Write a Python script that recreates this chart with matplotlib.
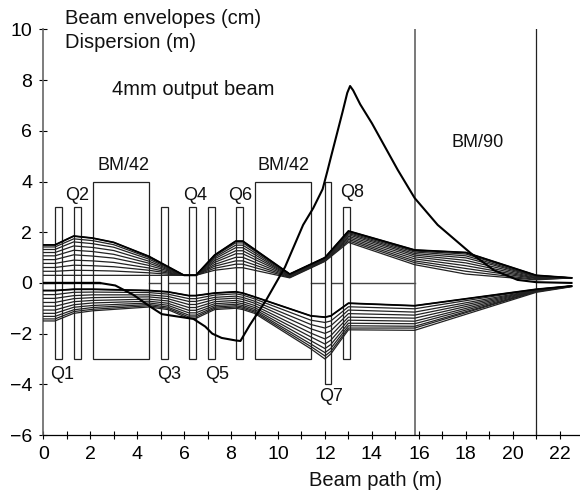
import matplotlib
matplotlib.use("Agg")
import matplotlib.pyplot as plt
from matplotlib.patches import Rectangle
import numpy as np

plt.rcParams["font.family"] = ["Liberation Sans", "DejaVu Sans"]

# magnets: name, start, end, bottom, top
QUAD_X0 = [0.5, 1.3, 5.0, 6.2, 7.0, 8.2, 12.0, 12.75]
QUAD_X1 = [0.8, 1.6, 5.3, 6.5, 7.3, 8.5, 12.25, 13.05]
QUAD_LOW = [-3, -3, -3, -3, -3, -3, -4, -3]
QUAD_TOP = [3, 3, 3, 3, 3, 3, 4, 3]
BEND_X0 = [2.1, 9.0]
BEND_X1 = [4.5, 11.4]
BEND_LOW = [-3, -3]
BEND_TOP = [4, 4]
VLINES = [15.82, 21.0]

# upper envelope, one row per path position, rays from inner to outer
UPPER_X = [0, 0.5, 1.3, 2.1, 3, 4.5, 6.0, 6.5, 7.3, 8.2, 8.5, 10.5, 12, 13, 15.82, 18, 21, 22.5]
UPPER = [
    [.30, .46, .61, .77, .92, 1.07, 1.20, 1.32, 1.42, 1.50],
    [.30, .46, .61, .77, .92, 1.07, 1.20, 1.32, 1.42, 1.50],
    [.30, .50, .70, .90, 1.11, 1.29, 1.46, 1.62, 1.74, 1.85],
    [.30, .49, .68, .87, 1.06, 1.24, 1.40, 1.55, 1.67, 1.77],
    [.30, .47, .64, .81, .98, 1.13, 1.28, 1.41, 1.51, 1.60],
    [.30, .40, .50, .59, .69, .78, .86, .94, 1.00, 1.05],
    [.30, .30, .30, .30, .30, .30, .30, .30, .30, .30],
    [.30, .30, .30, .30, .30, .30, .30, .30, .30, .30],
    [.50, .58, .66, .73, .81, .88, .95, 1.01, 1.06, 1.10],
    [.60, .74, .87, 1.01, 1.15, 1.27, 1.39, 1.49, 1.58, 1.65],
    [.60, .74, .87, 1.01, 1.15, 1.27, 1.39, 1.49, 1.58, 1.65],
    [.20, .22, .24, .26, .28, .30, .31, .33, .34, .35],
    [.85, .87, .89, .91, .93, .95, .96, .98, .99, 1.00],
    [1.60, 1.66, 1.72, 1.78, 1.84, 1.90, 1.95, 1.99, 2.03, 2.05],
    [.72, .80, .87, .95, 1.03, 1.10, 1.16, 1.22, 1.26, 1.30],
    [.35, .46, .57, .68, .79, .89, .99, 1.07, 1.14, 1.20],
    [.12, .14, .17, .19, .21, .24, .26, .27, .29, .30],
    [.20, .20, .20, .20, .20, .20, .20, .20, .20, .20],
]

# lower envelope, magnitudes below zero
LOWER_X = [0, 0.5, 1.3, 2.1, 4.5, 5.3, 6.2, 6.5, 7.3, 8.2, 8.5, 9, 11.4, 12, 12.25, 13, 15.82, 21, 22.5]
LOWER = [
    [.30, .46, .61, .77, .92, 1.07, 1.20, 1.32, 1.42, 1.50],
    [.30, .46, .61, .77, .92, 1.07, 1.20, 1.32, 1.42, 1.50],
    [.25, .37, .50, .62, .74, .86, .96, 1.06, 1.13, 1.20],
    [.25, .36, .47, .58, .69, .79, .89, .97, 1.04, 1.10],
    [.30, .38, .47, .55, .64, .72, .79, .85, .90, .95],
    [.35, .44, .53, .62, .71, .80, .88, .95, 1.00, 1.05],
    [.50, .62, .73, .85, .97, 1.08, 1.18, 1.27, 1.34, 1.40],
    [.50, .62, .73, .85, .97, 1.08, 1.18, 1.27, 1.34, 1.40],
    [.40, .48, .57, .65, .74, .82, .89, .95, 1.00, 1.05],
    [.35, .43, .52, .60, .69, .77, .84, .90, .95, 1.00],
    [.40, .48, .57, .65, .74, .82, .89, .95, 1.00, 1.05],
    [.55, .63, .72, .80, .89, .97, 1.04, 1.10, 1.15, 1.20],
    [1.30, 1.47, 1.64, 1.81, 1.98, 2.13, 2.28, 2.41, 2.51, 2.60],
    [1.35, 1.56, 1.78, 1.99, 2.21, 2.41, 2.59, 2.75, 2.88, 3.00],
    [1.30, 1.50, 1.69, 1.89, 2.08, 2.26, 2.43, 2.58, 2.70, 2.80],
    [.80, .94, 1.07, 1.21, 1.35, 1.47, 1.59, 1.69, 1.78, 1.85],
    [.90, 1.02, 1.15, 1.27, 1.39, 1.51, 1.61, 1.71, 1.78, 1.87],
    [.25, .26, .28, .29, .30, .31, .33, .34, .34, .37],
    [.12, .12, .12, .12, .12, .13, .13, .13, .14, .15],
]

DISP_X = [0, 2.4, 3.07, 3.84, 4.55, 5.05, 5.9, 6.4, 6.9, 7.2, 7.6, 8.2, 8.4, 8.8, 9.5, 10.3, 11.07, 11.5,
          11.9, 12.1, 12.25, 12.75, 12.95, 13.07, 13.2, 13.5, 14, 15.1, 15.82, 16.8, 18.2, 19.2, 20.2, 21, 22.5]
DISP_Y = [0, 0, -.1, -.47, -.93, -1.23, -1.35, -1.42, -1.72, -2.0, -2.17, -2.27, -2.29, -1.66, -.67, .63, 2.29, 2.95,
          3.7, 4.4, 4.95, 6.75, 7.5, 7.77, 7.6, 7.05, 6.3, 4.46, 3.35, 2.29, 1.18, .5, .12, .03, 0]

ZERO_X0 = [0, 4.5, 11.4]
ZERO_X1 = [2.4, 9.0, 15.82]

LABELS = ["Q1", "Q2", "Q3", "Q4", "Q5", "Q6", "Q7", "Q8", "BM/42", "BM/42", "BM/90"]
LABEL_X = [.8, 1.45, 5.35, 6.45, 7.4, 8.4, 12.25, 13.15, 3.4, 10.25, 18.5]
LABEL_Y = [-3.6, 3.45, -3.6, 3.45, -3.6, 3.45, -4.5, 3.55, 4.65, 4.65, 5.55]

fig = plt.figure(figsize=(5.8, 4.9), dpi=100)
ax = fig.add_axes([43.2 / 580, 1 - 435.0 / 490, 1 - 43.2 / 580, (435.0 - 29.5) / 490])
ax.set_xlim(0, (580 - 43.2) / 23.48)
ax.set_ylim(-6, 10)

for x0, x1 in zip(ZERO_X0, ZERO_X1):
    ax.plot([x0, x1], [0, 0], color="#444444", lw=1.0, zorder=1)

for x0, x1, lo, hi in zip(BEND_X0, BEND_X1, BEND_LOW, BEND_TOP):
    ax.add_patch(Rectangle((x0, lo), x1 - x0, hi - lo, fc="none", ec="#222222", lw=0.9, zorder=2))
for x0, x1, lo, hi in zip(QUAD_X0, QUAD_X1, QUAD_LOW, QUAD_TOP):
    ax.add_patch(Rectangle((x0, lo), x1 - x0, hi - lo, fc="white", ec="#222222", lw=0.9, zorder=2))

ax.plot(UPPER_X, np.array(UPPER), color="#222222", lw=0.9, zorder=3)
ax.plot(LOWER_X, -np.array(LOWER), color="#222222", lw=0.9, zorder=3)
ax.plot(UPPER_X, np.array(UPPER)[:, -1], color="black", lw=1.3, zorder=3)
ax.plot(LOWER_X, -np.array(LOWER)[:, 0], color="black", lw=1.3, zorder=3)

ax.plot([0, 2.4], [0, 0], color="black", lw=1.6, zorder=4)
ax.plot(DISP_X, DISP_Y, color="black", lw=1.5, zorder=4)

ax.plot([VLINES[0]] * 2, [-6, 10], color="#555555", lw=1.1, zorder=2)
ax.plot([VLINES[1]] * 2, [-6, 10], color="#222222", lw=0.9, zorder=2)

for name, x, y in zip(LABELS, LABEL_X, LABEL_Y):
    ax.text(x, y, name, ha="center", va="center", fontsize=13, color="#111111")

ax.text(.93, 10.45, "Beam envelopes (cm)", ha="left", va="center", fontsize=14.5, color="#111111")
ax.text(.93, 9.5, "Dispersion (m)", ha="left", va="center", fontsize=14.5, color="#111111")
ax.text(2.95, 7.65, "4mm output beam", ha="left", va="center", fontsize=14.5, color="#111111")
ax.text(14.17, -7.8, "Beam path (m)", ha="center", va="center", fontsize=14.5, color="#111111")

for side in ["top", "right"]:
    ax.spines[side].set_visible(False)
ax.spines["left"].set_color("#666666")
ax.spines["left"].set_linewidth(1.2)
ax.spines["bottom"].set_linewidth(0.9)

ax.set_xticks(np.arange(0, 23, 2))
ax.set_xticks(np.arange(1, 23, 2), minor=True)
ax.set_yticks(np.arange(-6, 11, 2))
ax.tick_params(axis="both", which="both", direction="inout", length=6, width=0.8, labelsize=14, pad=5)

fig.savefig("out.png", dpi=100)
